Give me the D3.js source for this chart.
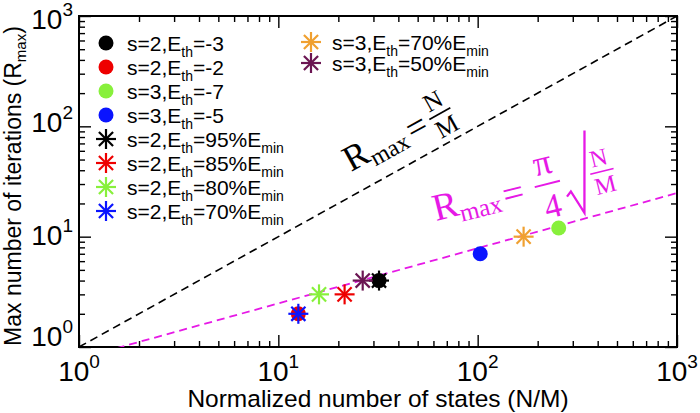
<!DOCTYPE html>
<html><head><meta charset="utf-8">
<script src="https://cdn.jsdelivr.net/npm/d3@7"></script>
<style>
html,body{margin:0;padding:0;background:#fff;}
text{font-family:"Liberation Sans",Arial,sans-serif;}
.serif{font-family:"Liberation Serif","Times New Roman",serif;}
</style></head>
<body>
<svg id="chart" width="700" height="413"></svg>
<script>
// ---- data ----
const seriesS      = ["s=2","s=2","s=3","s=3","s=2","s=2","s=2","s=2","s=3","s=3"];
const seriesEth    = ["-3","-2","-7","-5","95%","85%","80%","70%","70%","50%"];
const seriesMin    = [false,false,false,false,true,true,true,true,true,true];
const seriesShape  = ["circle","circle","circle","circle","star","star","star","star","star","star"];
const xValues      = [32, 12.6, 255, 103, 32, 21.5, 16, 12.6, 170, 26.5];   // N/M
const yValues      = [4, 2, 12, 7, 4, 3, 3, 2, 10, 4];                       // R_max
const xTickValues  = [1, 10, 100, 1000];
const xTickExps    = ["0","1","2","3"];
const yTickValues  = [1, 10, 100, 1000];
const yTickExps    = ["0","1","2","3"];
const legendLeft   = [0,1,2,3,4,5,6,7];
const legendTop    = [8,9];

// ---- styles ----
const colors = ["#000000","#ee0000","#88f03c","#0a14ff","#000000","#ee0000","#88f03c","#0a14ff","#f0a030","#6b1552"];
const magenta = "#e619e6";

const svg = d3.select("#chart");
const L = 79, R = 677, T = 16, B = 347;
const x = d3.scaleLog().domain([1, 1000]).range([L, R]);
const y = d3.scaleLog().domain([1, 1000]).range([B, T]);

svg.append("defs").append("clipPath").attr("id","clip")
  .append("rect").attr("x",L).attr("y",T).attr("width",R-L).attr("height",B-T);

// minor ticks
const minor = [];
for (let d = 1; d < 1000; d *= 10) for (let k = 2; k <= 9; k++) minor.push(k*d);

function axisGroup(axisFn, scale, vals, size, tr){
  const g = svg.append("g").attr("transform", tr)
    .call(axisFn(scale).tickValues(vals).tickSizeInner(size).tickSizeOuter(0).tickFormat(""));
  g.select(".domain").remove();
  g.selectAll(".tick line").attr("stroke","#000").attr("stroke-width",1.4);
  return g;
}
axisGroup(d3.axisBottom, x, xTickValues, -12, `translate(0,${B})`);
axisGroup(d3.axisBottom, x, minor, -6, `translate(0,${B})`);
axisGroup(d3.axisTop, x, xTickValues, -12, `translate(0,${T})`);
axisGroup(d3.axisTop, x, minor, -6, `translate(0,${T})`);
axisGroup(d3.axisLeft, y, yTickValues, -12, `translate(${L},0)`);
axisGroup(d3.axisLeft, y, minor, -6, `translate(${L},0)`);
axisGroup(d3.axisRight, y, yTickValues, -12, `translate(${R},0)`);
axisGroup(d3.axisRight, y, minor, -6, `translate(${R},0)`);

// frame
svg.append("rect").attr("x",L).attr("y",T).attr("width",R-L).attr("height",B-T)
  .attr("fill","none").attr("stroke","#000").attr("stroke-width",2);

// tick labels
xTickValues.forEach((v,i)=>{
  const t = svg.append("text").attr("x", x(v)).attr("y", 381)
    .attr("text-anchor","middle").attr("font-size",28);
  t.append("tspan").text("10");
  t.append("tspan").attr("dy",-13).attr("font-size",19).text(xTickExps[i]);
});
const yLabOff = [-1, 8, 6, 13];
yTickValues.forEach((v,i)=>{
  const t = svg.append("text").attr("x", 73).attr("y", y(v)+yLabOff[i])
    .attr("text-anchor","end").attr("font-size",28);
  t.append("tspan").text("10");
  t.append("tspan").attr("dy",-13).attr("font-size",19).text(yTickExps[i]);
});

// axis titles
svg.append("text").attr("x",(L+R)/2).attr("y",407).attr("text-anchor","middle")
  .attr("font-size",24.5).text("Normalized number of states (N/M)");
const yt = svg.append("text").attr("transform","translate(21,186) rotate(-90)")
  .attr("text-anchor","middle").attr("font-size",23);
yt.append("tspan").text("Max number of iterations (R");
yt.append("tspan").attr("dy",5).attr("font-size",15).text("max");
yt.append("tspan").attr("dy",-5).text(")");

// reference lines
const lineGen = d3.line().x(d=>x(d[0])).y(d=>y(d[1]));
const plot = svg.append("g").attr("clip-path","url(#clip)");
const nm = [1, 1000];
plot.append("path").attr("d", lineGen(nm.map(v=>[v, v])))
  .attr("fill","none").attr("stroke","#000").attr("stroke-width",1.6).attr("stroke-dasharray","8,5");
plot.append("path").attr("d", lineGen(nm.map(v=>[v, Math.PI/4*Math.sqrt(v)])))
  .attr("fill","none").attr("stroke",magenta).attr("stroke-width",1.8).attr("stroke-dasharray","8,5");

// markers
function drawMarker(g, shape, cx, cy, col){
  if (shape === "circle"){
    g.append("circle").attr("cx",cx).attr("cy",cy).attr("r",7.5).attr("fill",col);
  } else {
    const r = 10;
    for (let a = 0; a < 180; a += 45){
      const rad = a*Math.PI/180;
      g.append("line").attr("x1",cx-r*Math.cos(rad)).attr("y1",cy-r*Math.sin(rad))
        .attr("x2",cx+r*Math.cos(rad)).attr("y2",cy+r*Math.sin(rad))
        .attr("stroke",col).attr("stroke-width",2.2);
    }
  }
}
const pts = svg.append("g");
xValues.forEach((v,i)=> drawMarker(pts, seriesShape[i], x(v), y(yValues[i]), colors[i]));

// legends
function legendItem(i, mx, my){
  drawMarker(svg, seriesShape[i], mx, my, colors[i]);
  const t = svg.append("text").attr("x", mx+21).attr("y", my+8).attr("font-size",21);
  t.append("tspan").text(seriesS[i] + ",E");
  t.append("tspan").attr("dy",6).attr("font-size",14).text("th");
  t.append("tspan").attr("dy",-6).text("=" + seriesEth[i] + (seriesMin[i] ? "E" : ""));
  if (seriesMin[i]) t.append("tspan").attr("dy",6).attr("font-size",14).text("min");
}
legendLeft.forEach((idx,k)=> legendItem(idx, 106, 43 + k*24));
legendTop.forEach((idx,k)=> legendItem(idx, 311, 42 + k*21));

// annotation: R_max = N/M (black)
const a1 = svg.append("g").attr("transform","translate(351,172) rotate(-29)");
a1.append("text").attr("class","serif").attr("x",0).attr("y",0).attr("font-size",36).text("R");
a1.append("text").attr("class","serif").attr("x",24).attr("y",7).attr("font-size",24).text("max");
a1.append("text").attr("class","serif").attr("x",69).attr("y",4).attr("font-size",36).text("=");
a1.append("text").attr("class","serif").attr("x",106).attr("y",-14).attr("text-anchor","middle").attr("font-size",25).text("N");
a1.append("line").attr("x1",94).attr("x2",118).attr("y1",-8).attr("y2",-8).attr("stroke","#000").attr("stroke-width",1.7);
a1.append("text").attr("class","serif").attr("x",106).attr("y",15).attr("text-anchor","middle").attr("font-size",25).text("M");

// annotation: R_max = pi/4 sqrt(N/M) (magenta)
const a2 = svg.append("g").attr("transform","translate(436,221) rotate(-14)").attr("fill",magenta);
a2.append("text").attr("class","serif").attr("x",0).attr("y",0).attr("font-size",38).text("R");
a2.append("text").attr("class","serif").attr("x",25).attr("y",7).attr("font-size",25).text("max");
a2.append("text").attr("class","serif").attr("x",71).attr("y",4).attr("font-size",38).text("=");
a2.append("text").attr("class","serif").attr("x",117).attr("y",-19).attr("text-anchor","middle").attr("font-size",36).text("π");
a2.append("line").attr("x1",104).attr("x2",130).attr("y1",-9).attr("y2",-9).attr("stroke",magenta).attr("stroke-width",2);
a2.append("text").attr("class","serif").attr("x",117).attr("y",25).attr("text-anchor","middle").attr("font-size",34).text("4");
a2.append("path").attr("d","M133,8 L138,4 L146,28 L166,-52")
  .attr("fill","none").attr("stroke",magenta).attr("stroke-width",2.3);
a2.append("text").attr("class","serif").attr("x",173).attr("y",-14).attr("text-anchor","middle").attr("font-size",24).text("N");
a2.append("line").attr("x1",161).attr("x2",185).attr("y1",-8).attr("y2",-8).attr("stroke",magenta).attr("stroke-width",1.7);
a2.append("text").attr("class","serif").attr("x",173).attr("y",14).attr("text-anchor","middle").attr("font-size",24).text("M");
</script>
</body></html>
